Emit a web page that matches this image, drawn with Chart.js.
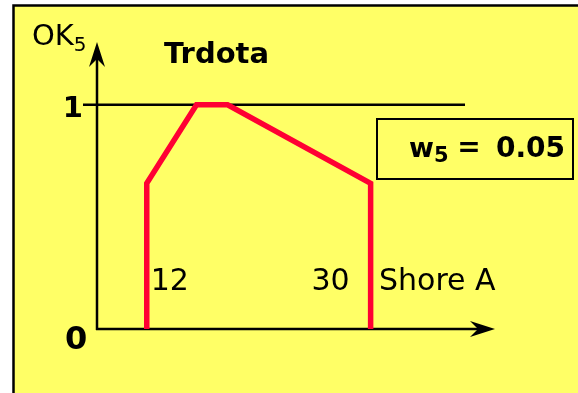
<!DOCTYPE html>
<html>
<head>
<meta charset="utf-8">
<script src="https://cdn.jsdelivr.net/npm/chart.js@4"></script>
<style>
  html, body { margin: 0; padding: 0; background: #ffffff; }
  #wrap { width: 578px; height: 393px; position: relative; }
</style>
</head>
<body>
<div id="wrap"><canvas id="c"></canvas></div>
<script>
// ---- data ----
const hardness = [12, 12, 16, 18.5, 30, 30];          // Shore A
const ok5 = [0, 0.65, 1, 1, 0.65, 0];                  // OK5 membership
const xTickValues = [12, 30];
const xTickLabels = ["12", "30"];
const yTickValues = [0, 1];
const yTickLabels = ["0", "1"];
const titleText = "Trdota";
const xAxisName = "Shore A";
const yAxisName = "OK";
const yAxisSub = "5";
const weightName = "w";
const weightSub = "5";
const weightValue = "0.05";

const FONT = '"DejaVu Sans", sans-serif';
const YELLOW = '#FFFF66';
const RED = '#FF0033';

const points = hardness.map((x, i) => ({ x: x, y: ok5[i] }));

const decor = {
  id: 'decor',
  beforeDraw(chart) {
    const ctx = chart.ctx;
    ctx.save();
    ctx.fillStyle = '#ffffff';
    ctx.fillRect(0, 0, chart.width, chart.height);
    ctx.fillStyle = YELLOW;
    ctx.fillRect(14, 6, chart.width - 14, chart.height - 6);
    ctx.strokeStyle = '#000';
    ctx.lineWidth = 2.5;
    ctx.beginPath();
    ctx.moveTo(13.5, chart.height);
    ctx.lineTo(13.5, 5.5);
    ctx.lineTo(chart.width, 5.5);
    ctx.stroke();

    const xs = chart.scales.x, ys = chart.scales.y;
    const x0 = xs.getPixelForValue(xs.min);
    const y0 = ys.getPixelForValue(0);
    const y1 = ys.getPixelForValue(1);
    const xEnd = xs.getPixelForValue(xs.max);
    const yTop = ys.getPixelForValue(ys.max);

    ctx.strokeStyle = '#000';
    ctx.fillStyle = '#000';
    ctx.lineWidth = 2.5;
    // line at 1
    ctx.beginPath();
    ctx.moveTo(83, y1);
    ctx.lineTo(465, y1);
    ctx.stroke();
    // y axis
    ctx.beginPath();
    ctx.moveTo(x0, y0 + 1);
    ctx.lineTo(x0, yTop + 8);
    ctx.stroke();
    // x axis
    ctx.beginPath();
    ctx.moveTo(x0 - 1, y0);
    ctx.lineTo(xEnd - 8, y0);
    ctx.stroke();
    // arrowheads
    ctx.beginPath();
    ctx.moveTo(xEnd, y0);
    ctx.lineTo(xEnd - 25, y0 - 8);
    ctx.lineTo(xEnd - 17, y0);
    ctx.lineTo(xEnd - 25, y0 + 8);
    ctx.closePath();
    ctx.fill();
    ctx.beginPath();
    ctx.moveTo(x0, yTop);
    ctx.lineTo(x0 - 8, yTop + 25);
    ctx.lineTo(x0, yTop + 17);
    ctx.lineTo(x0 + 8, yTop + 25);
    ctx.closePath();
    ctx.fill();

    // weight box
    ctx.lineWidth = 2;
    ctx.strokeRect(377, 119, 196, 60);
    ctx.restore();
  },
  afterDraw(chart) {
    const ctx = chart.ctx;
    const xs = chart.scales.x, ys = chart.scales.y;
    ctx.save();
    ctx.fillStyle = '#000';
    ctx.textBaseline = 'alphabetic';

    // y axis name OK5
    ctx.font = '29px ' + FONT;
    ctx.textAlign = 'left';
    ctx.fillText(yAxisName, 32, 45);
    let w = ctx.measureText(yAxisName).width;
    ctx.font = '20px ' + FONT;
    ctx.fillText(yAxisSub, 32 + w, 51);

    // title
    ctx.font = 'bold 29px ' + FONT;
    ctx.fillText(titleText, 164, 63);

    // y tick labels
    ctx.font = 'bold 29px ' + FONT;
    ctx.textAlign = 'right';
    ctx.fillText(yTickLabels[1], 83, ys.getPixelForValue(yTickValues[1]) + 12);
    ctx.textAlign = 'left';
    ctx.font = 'bold 32px ' + FONT;
    ctx.fillText(yTickLabels[0], 65, ys.getPixelForValue(yTickValues[0]) + 20);

    // x tick labels
    ctx.font = '30px ' + FONT;
    ctx.textAlign = 'left';
    ctx.fillText(xTickLabels[0], xs.getPixelForValue(xTickValues[0]) + 4, 290);
    ctx.textAlign = 'right';
    ctx.fillText(xTickLabels[1], xs.getPixelForValue(xTickValues[1]) - 21, 290);
    ctx.textAlign = 'left';
    ctx.fillText(xAxisName, 379, 290);

    // weight text
    ctx.font = 'bold 27px ' + FONT;
    ctx.textAlign = 'left';
    ctx.fillText(weightName, 409, 157);
    w = ctx.measureText(weightName).width;
    ctx.font = 'bold 21px ' + FONT;
    ctx.fillText(weightSub, 409 + w, 162);
    ctx.font = 'bold 28px ' + FONT;
    ctx.textAlign = 'center';
    ctx.fillText('=', 469, 156);
    ctx.textAlign = 'right';
    ctx.fillText(weightValue, 565, 157);
    ctx.restore();
  }
};

new Chart(document.getElementById('c'), {
  type: 'scatter',
  data: {
    datasets: [{
      data: points,
      showLine: true,
      borderColor: RED,
      backgroundColor: RED,
      borderWidth: 5.5,
      borderJoinStyle: 'miter',
      pointRadius: 0,
      pointHoverRadius: 0,
      tension: 0
    }]
  },
  options: {
    responsive: true,
    maintainAspectRatio: false,
    animation: false,
    events: [],
    layout: { padding: { left: 97, right: 83, top: 42, bottom: 64 } },
    plugins: { legend: { display: false }, tooltip: { enabled: false } },
    scales: {
      x: { type: 'linear', min: 8, max: 40, display: false },
      y: { type: 'linear', min: 0, max: 1.28, display: false }
    }
  },
  plugins: [decor]
});
</script>
</body>
</html>
